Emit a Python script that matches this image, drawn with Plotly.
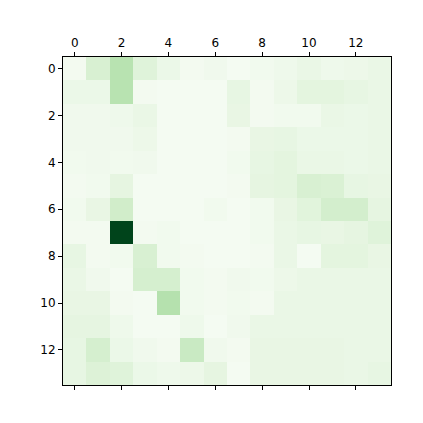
import plotly.graph_objects as go

rows = list(range(14))
cols = list(range(14))

values = [
    [0.03, 0.18, 0.30, 0.15, 0.08, 0.03, 0.05, 0.02, 0.04, 0.06, 0.09, 0.06, 0.07, 0.09],
    [0.08, 0.08, 0.30, 0.03, 0.02, 0.02, 0.02, 0.11, 0.03, 0.07, 0.13, 0.13, 0.11, 0.09],
    [0.05, 0.05, 0.06, 0.09, 0.02, 0.02, 0.02, 0.10, 0.03, 0.04, 0.04, 0.09, 0.08, 0.09],
    [0.05, 0.05, 0.05, 0.07, 0.02, 0.02, 0.02, 0.03, 0.10, 0.11, 0.08, 0.08, 0.08, 0.09],
    [0.04, 0.05, 0.04, 0.05, 0.02, 0.02, 0.02, 0.04, 0.11, 0.13, 0.09, 0.09, 0.08, 0.09],
    [0.03, 0.04, 0.12, 0.02, 0.02, 0.02, 0.02, 0.03, 0.12, 0.13, 0.18, 0.17, 0.11, 0.10],
    [0.04, 0.10, 0.21, 0.02, 0.02, 0.02, 0.04, 0.02, 0.04, 0.10, 0.14, 0.20, 0.20, 0.12],
    [0.03, 0.03, 1.00, 0.03, 0.04, 0.02, 0.02, 0.02, 0.04, 0.09, 0.11, 0.10, 0.12, 0.15],
    [0.11, 0.03, 0.04, 0.18, 0.04, 0.03, 0.02, 0.02, 0.03, 0.09, 0.02, 0.13, 0.13, 0.10],
    [0.09, 0.05, 0.02, 0.19, 0.19, 0.04, 0.03, 0.05, 0.04, 0.07, 0.09, 0.09, 0.09, 0.09],
    [0.10, 0.10, 0.03, 0.02, 0.31, 0.04, 0.03, 0.04, 0.03, 0.09, 0.09, 0.09, 0.09, 0.09],
    [0.12, 0.12, 0.06, 0.02, 0.02, 0.06, 0.02, 0.05, 0.09, 0.09, 0.09, 0.09, 0.09, 0.09],
    [0.11, 0.19, 0.08, 0.05, 0.03, 0.24, 0.05, 0.03, 0.10, 0.10, 0.10, 0.10, 0.09, 0.09],
    [0.11, 0.16, 0.15, 0.08, 0.06, 0.07, 0.12, 0.02, 0.10, 0.10, 0.10, 0.10, 0.09, 0.11],
]

tick_vals = [0, 2, 4, 6, 8, 10, 12]

greens = [
    [0.0, "#f7fcf5"], [0.125, "#e5f5e0"], [0.25, "#c7e9c0"], [0.375, "#a1d99b"],
    [0.5, "#74c476"], [0.625, "#41ab5d"], [0.75, "#238b45"], [0.875, "#006d2c"],
    [1.0, "#00441b"],
]

fig = go.Figure(go.Heatmap(
    z=values, x=cols, y=rows, colorscale=greens, zmin=0, zmax=1,
    showscale=False, xgap=0, ygap=0,
))

axis_common = dict(
    showgrid=False, zeroline=False, showline=True, linecolor="black", linewidth=1,
    ticks="outside", ticklen=4, tickcolor="black", tickwidth=1,
    tickvals=tick_vals, ticktext=[str(v) for v in tick_vals],
    tickfont=dict(family="DejaVu Sans", size=12, color="black"),
    automargin=False,
)

fig.update_layout(
    width=415, height=415,
    margin=dict(l=55, r=32, t=49, b=38),
    paper_bgcolor="white", plot_bgcolor="white",
    xaxis=dict(side="top", range=[-0.5, 13.5], mirror="ticks", **axis_common),
    yaxis=dict(range=[13.5, -0.5], mirror=True, **axis_common),
)

fig.write_html("out.html")
